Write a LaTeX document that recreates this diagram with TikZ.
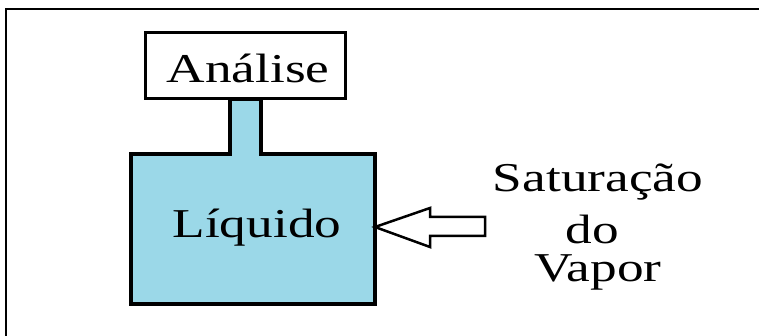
\documentclass[tikz,border=0pt]{standalone}
\usepackage{fontspec}
\newfontfamily\wide[FakeStretch=1.3]{Liberation Serif}
\definecolor{liq}{RGB}{155,216,232}
\tikzset{
  lbl/.style={font=\wide\fontsize{41}{44}\selectfont, inner sep=0pt, align=center},
  vessel/.style={draw=black, line width=3.5pt, fill=liq, line join=miter},
  hollowarrow/.style={draw=black, line width=2.5pt, fill=white, line join=miter},
}
\begin{document}
\begin{tikzpicture}[x=1pt,y=-1pt]
\useasboundingbox (0,0) rectangle (759,336);
% frame (only top and left edges visible)
\draw[line width=2pt] (6,336) -- (6,9) -- (759,9);
% vessel: body + neck
\draw[vessel] (131,304) -- (131,154) -- (230,154) -- (230,99) -- (261,99) -- (261,154) -- (375,154) -- (375,304) -- cycle;
% analysis box
\node[draw=black, line width=3pt, fill=white, minimum width=200pt, minimum height=66pt, inner sep=0pt] (ana) at (245,66) {};
\node[lbl, anchor=base] (anat) at (248,83) {Análise};
\coordinate (wall) at (375,227);
\node[lbl, anchor=base] (liqt) at (257,238) {Líquido};
% hollow arrow
\draw[hollowarrow] (wall) -- (430,208) -- (430,217) -- (485,217) -- (485,236) -- (430,236) -- (430,247) -- cycle;
% label
\node[lbl, anchor=base] (sat) at (598,192) {Saturação};
\node[lbl, anchor=base] (do) at (592,244) {do};
\node[lbl, anchor=base] (vap) at (598,281) {Vapor};
\end{tikzpicture}
\end{document}
